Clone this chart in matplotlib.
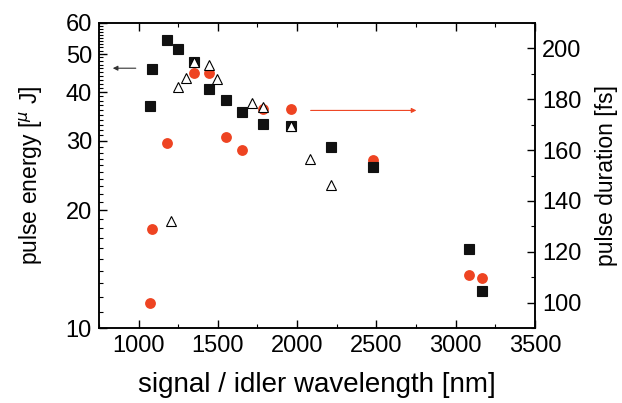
import matplotlib
matplotlib.use("Agg")
import matplotlib.pyplot as plt
from matplotlib.ticker import FixedLocator, FixedFormatter, NullFormatter, MultipleLocator

plt.rcParams['font.family'] = ['Liberation Sans', 'DejaVu Sans']
plt.rcParams['mathtext.fontset'] = 'custom'
plt.rcParams['mathtext.rm'] = 'Liberation Sans'

# pulse energy (left axis, log) - filled squares
sq_wl = [1071, 1082, 1179, 1250, 1349, 1446, 1549, 1652, 1784, 1961, 2217, 2480, 3083, 3167]
sq_energy = [36.8, 45.7, 54.3, 51.4, 47.7, 40.6, 38.2, 35.6, 33.1, 32.8, 28.9, 25.8, 15.9, 12.4]

# pulse energy (left axis) - open triangles
tri_wl = [1202, 1250, 1299, 1349, 1446, 1498, 1713, 1784, 1961, 2080, 2217]
tri_energy = [18.8, 41.3, 43.4, 47.7, 46.9, 43.1, 37.6, 36.6, 32.8, 27.0, 23.1]

# pulse duration (right axis) - red circles
dur_wl = [1071, 1082, 1179, 1349, 1446, 1549, 1652, 1784, 1961, 2480, 3083, 3167]
duration = [100, 128.8, 162.9, 190.2, 190.2, 165.0, 160.0, 176.0, 176.0, 156.0, 110.7, 109.8]

red = '#ee4422'

fig = plt.figure(figsize=(6.22, 4.03), dpi=100)
ax = fig.add_axes([0.159, 0.186, 0.701, 0.757])
ax2 = ax.twinx()

ax.set_yscale('log')
ax.set_xlim(750, 3500)
ax.set_ylim(10, 60)

ax.plot(sq_wl, sq_energy, 's', color='#111111', ms=6.6, mew=0.8, zorder=3)
ax.plot(tri_wl, tri_energy, '^', mfc='white', mec='black', mew=0.8, ms=6.5, zorder=4)
ax2.plot(dur_wl, duration, 'o', color=red, ms=7.8, mec='none', zorder=2)
ax2.set_ylim(90, 210)

# left axis drawn over the twin so triangles sit on top of circles
ax.set_zorder(ax2.get_zorder() + 1)
ax.patch.set_visible(False)

# arrows pointing to the matching axis
ax.annotate('', xy=(820, 46), xytext=(1000, 46),
            arrowprops=dict(arrowstyle='-|>', color='#333333', lw=0.8, mutation_scale=7))
ax2.annotate('', xy=(2770, 175.6), xytext=(2068, 175.6),
             arrowprops=dict(arrowstyle='-|>', color=red, lw=0.8, mutation_scale=7))

major_e = [10, 20, 30, 40, 50, 60]
minor_e = [v for v in range(11, 60) if v not in major_e]
ax.yaxis.set_major_locator(FixedLocator(major_e))
ax.yaxis.set_minor_locator(FixedLocator(minor_e))
ax.yaxis.set_major_formatter(FixedFormatter([str(v) for v in major_e]))
ax.yaxis.set_minor_formatter(NullFormatter())

ax.xaxis.set_major_locator(MultipleLocator(500))
ax.xaxis.set_minor_locator(MultipleLocator(250))
ax2.yaxis.set_major_locator(MultipleLocator(20))
ax2.yaxis.set_minor_locator(MultipleLocator(10))

for a in (ax, ax2):
    a.tick_params(which='both', direction='in', labelsize=17, pad=5)
    a.tick_params(which='major', length=6, width=1)
    a.tick_params(which='minor', length=3, width=0.8)
    for s in a.spines.values():
        s.set_linewidth(1.1)
ax.tick_params(which='both', top=True)

ax.set_xlabel('signal / idler wavelength [nm]', fontsize=20, labelpad=11)
ax.set_ylabel(r'pulse energy [$^{\mu}$ J]', fontsize=16.5, labelpad=15)
ax2.set_ylabel('pulse duration [fs]', fontsize=16.5, labelpad=10)

fig.savefig('out.png', dpi=100)
